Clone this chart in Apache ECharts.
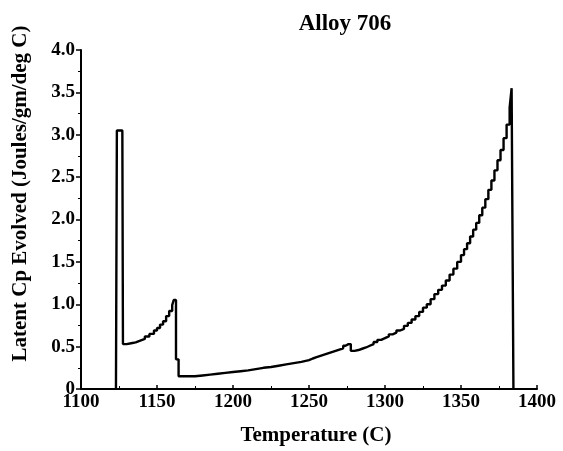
<!DOCTYPE html>
<html>
<head>
<meta charset="utf-8">
<script src="https://cdn.jsdelivr.net/npm/echarts@6/dist/echarts.min.js"></script>
<style>html,body{margin:0;padding:0;background:#fff}#c{width:563px;height:451px}</style>
</head>
<body>
<div id="c"></div>
<script>
const titleText = 'Alloy 706';
const xName = 'Temperature (C)';
const yName = 'Latent Cp Evolved (Joules/gm/deg C)';
const xTicks = [1100, 1150, 1200, 1250, 1300, 1350, 1400];
const yTicks = ['0', '0.5', '1.0', '1.5', '2.0', '2.5', '3.0', '3.5', '4.0'];

const temperature = [
  1123, 1123.6, 1127.2, 1127.6, 1130, 1133, 1136, 1139, 1142, 1145, 1148, 1150,
  1152, 1154, 1156, 1158, 1160, 1161, 1162.5, 1164.2, 1170, 1175, 1180, 1185,
  1190, 1195, 1200, 1205, 1210, 1215, 1220, 1225, 1230, 1235, 1240, 1245,
  1250, 1252.5, 1255, 1257.5, 1260, 1262.5, 1265, 1267.5, 1270, 1272.5, 1274, 1276,
  1277.5, 1280, 1282.5, 1285, 1287.5, 1290, 1292.5, 1295, 1297.5, 1300, 1302.5, 1305,
  1307.5, 1310, 1312.5, 1315, 1317.5, 1320, 1322.5, 1325, 1327.5, 1330, 1332.5, 1335,
  1337.5, 1340, 1342.5, 1345, 1347.5, 1350, 1352, 1354, 1356, 1358, 1360, 1362,
  1364, 1366, 1368, 1370, 1372, 1374, 1376, 1378, 1380, 1382, 1383.3, 1384.3, 1384.5
];
const latentCp = [
  0, 3.05, 3.05, 0.53, 0.54, 0.55, 0.57, 0.59, 0.62, 0.65, 0.69, 0.72,
  0.76, 0.80, 0.86, 0.92, 0.99, 1.05, 0.35, 0.15, 0.15, 0.16, 0.17, 0.18,
  0.19, 0.20, 0.21, 0.22, 0.235, 0.25, 0.26, 0.275, 0.29, 0.305, 0.32, 0.34,
  0.36, 0.375, 0.39, 0.405, 0.42, 0.435, 0.45, 0.465, 0.48, 0.51, 0.53, 0.53,
  0.45, 0.46, 0.475, 0.49, 0.51, 0.53, 0.555, 0.58, 0.60, 0.62, 0.645, 0.665,
  0.69, 0.71, 0.745, 0.78, 0.82, 0.86, 0.91, 0.96, 1.00, 1.06, 1.12, 1.17,
  1.22, 1.28, 1.35, 1.42, 1.50, 1.58, 1.65, 1.72, 1.80, 1.88, 1.96, 2.05,
  2.14, 2.24, 2.35, 2.46, 2.58, 2.70, 2.82, 2.96, 3.12, 3.32, 3.55, 3.55, 0
];

const seriesData = temperature.map((t, i) => [t, latentCp[i]]);
const font = '"Liberation Serif", "Times New Roman", serif';

const chart = echarts.init(document.getElementById('c'), null, {renderer: 'canvas'});
chart.setOption({
  animation: false,
  backgroundColor: '#fff',
  title: {
    text: titleText,
    left: 340, top: 8, textAlign: 'center',
    textStyle: {fontFamily: font, fontWeight: 'bold', fontSize: 23, color: '#000'}
  },
  grid: {left: 81, right: 26, top: 50, bottom: 58},
  xAxis: {
    type: 'value', min: xTicks[0], max: xTicks[xTicks.length - 1], interval: 50,
    name: xName, nameLocation: 'middle', nameGap: 36,
    nameTextStyle: {fontFamily: font, fontWeight: 'bold', fontSize: 21, color: '#000', padding: [0, 0, 0, 14]},
    axisLine: {lineStyle: {color: '#000', width: 2}},
    axisTick: {inside: true, length: 4, lineStyle: {color: '#000', width: 1.5}},
    minorTick: {show: true, splitNumber: 2, length: 3, lineStyle: {color: '#000'}},
    splitLine: {show: false},
    axisLabel: {fontFamily: font, fontWeight: 'bold', fontSize: 19, color: '#000', margin: 4,
      formatter: v => String(v)}
  },
  yAxis: {
    type: 'value', min: 0, max: 4, interval: 0.5,
    name: yName, nameLocation: 'middle', nameGap: 50,
    nameTextStyle: {fontFamily: font, fontWeight: 'bold', fontSize: 21, color: '#000', padding: [0, 0, 0, 52]},
    axisLine: {show: true, lineStyle: {color: '#000', width: 2}},
    axisTick: {show: true, length: 5, lineStyle: {color: '#000', width: 1.5}},
    minorTick: {show: true, splitNumber: 2, length: 3, lineStyle: {color: '#000'}},
    splitLine: {show: false},
    axisLabel: {fontFamily: font, fontWeight: 'bold', fontSize: 19, color: '#000', margin: 6,
      formatter: v => yTicks[Math.round(v * 2)]}
  },
  series: [{
    type: 'line', data: seriesData, step: 'end', showSymbol: false,
    lineStyle: {color: '#000', width: 2.4}
  }]
});
</script>
</body>
</html>
